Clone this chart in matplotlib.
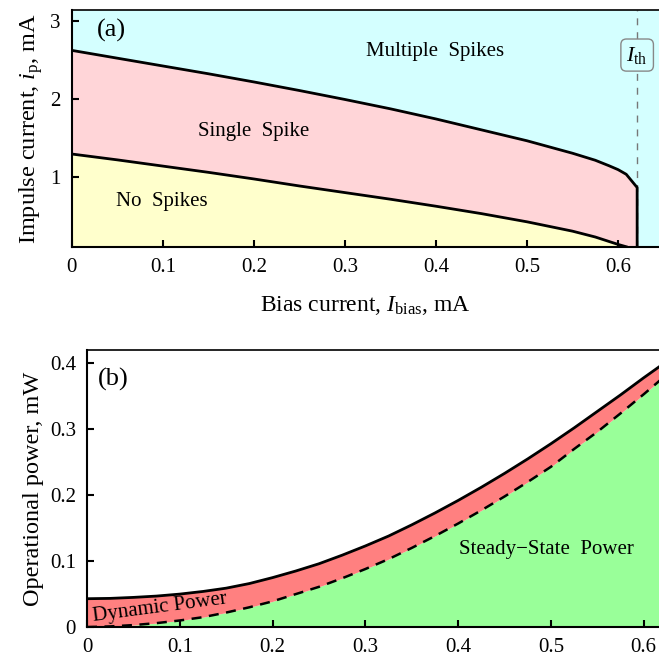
import numpy as np
import matplotlib.pyplot as plt

plt.rcParams['font.family'] = 'Liberation Serif'
plt.rcParams['mathtext.fontset'] = 'custom'
plt.rcParams['mathtext.rm'] = 'Liberation Serif'
plt.rcParams['mathtext.it'] = 'Liberation Serif:italic'

# panel (a): spiking boundaries
i_bias_up = [0.0, 0.05, 0.1, 0.15, 0.2, 0.25, 0.3, 0.35, 0.4, 0.45, 0.5,
             0.525, 0.55, 0.575, 0.59, 0.6, 0.609, 0.621]
i_p_single = [2.62, 2.52, 2.42, 2.32, 2.215, 2.105, 1.99, 1.87, 1.74, 1.60, 1.46,
              1.38, 1.30, 1.21, 1.14, 1.09, 1.03, 0.86]
i_bias_low = [0.0, 0.05, 0.1, 0.15, 0.2, 0.25, 0.3, 0.35, 0.4, 0.45, 0.5,
              0.55, 0.575, 0.6, 0.609]
i_p_none = [1.29, 1.215, 1.135, 1.055, 0.97, 0.88, 0.795, 0.71, 0.62, 0.525, 0.42,
            0.30, 0.225, 0.13, 0.10]
i_th = 0.621

# panel (b): operational power
i_bias_pw = [0.0, 0.025, 0.05, 0.075, 0.1, 0.125, 0.15, 0.175, 0.2, 0.225, 0.25,
             0.275, 0.3, 0.325, 0.35, 0.375, 0.4, 0.425, 0.45, 0.475, 0.5,
             0.525, 0.55, 0.575, 0.6, 0.62]
p_total = [0.043, 0.0435, 0.045, 0.047, 0.050, 0.054, 0.059, 0.066, 0.075, 0.085, 0.096,
           0.109, 0.123, 0.138, 0.155, 0.173, 0.192, 0.212, 0.233, 0.255, 0.278,
           0.302, 0.327, 0.352, 0.378, 0.398]
p_steady = [0.0, 0.001, 0.003, 0.006, 0.010, 0.015, 0.022, 0.030, 0.039, 0.050, 0.061,
            0.074, 0.088, 0.103, 0.120, 0.138, 0.157, 0.177, 0.198, 0.220, 0.243,
            0.270, 0.296, 0.324, 0.353, 0.377]

fig = plt.figure(figsize=(6.59, 6.58), dpi=100)

# ---- (a) ----
ax1 = fig.add_axes([0.109, 0.625, 0.891, 0.36])
ymin, ymax = 0.1, 3.14
ax1.set_facecolor('#d4ffff')
ax1.fill_between(i_bias_up, ymin, i_p_single, color='#ffd5d8', lw=0)
ax1.fill_between(i_bias_low, ymin, i_p_none, color='#ffffcc', lw=0)
ax1.axvline(i_th, color='#777777', ls=(0, (5, 5)), lw=1)
ax1.plot(list(i_bias_up) + [i_th], list(i_p_single) + [ymin], color='black', lw=2)
ax1.plot(i_bias_low, i_p_none, color='black', lw=2)
ax1.set_xlim(0, 0.645)
ax1.set_ylim(ymin, ymax)
ax1.set_xticks([0, 0.1, 0.2, 0.3, 0.4, 0.5, 0.6])
ax1.set_xticklabels(['0', '0.1', '0.2', '0.3', '0.4', '0.5', '0.6'])
ax1.set_yticks([1, 2, 3])
ax1.spines['right'].set_visible(False)
ax1.text(0.028, 2.88, '(a)', fontsize=19, va='center')
ax1.text(0.399, 2.6, 'Multiple  Spikes', fontsize=15, ha='center', va='center')
ax1.text(0.2, 1.58, 'Single  Spike', fontsize=15, ha='center', va='center')
ax1.text(0.099, 0.68, 'No  Spikes', fontsize=15, ha='center', va='center')
ax1.text(i_th, 2.56, r'$I_{\rm th}$', fontsize=16, ha='center', va='center',
         bbox=dict(boxstyle='round,pad=0.25', fc='#d4ffff', ec='#888888', lw=1))
ax1.set_xlabel(r'Bias current, $I_{\rm bias}$, mA', fontsize=17, labelpad=12)
ax1.set_ylabel(r'Impulse current, $i_{\rm p}$, mA', fontsize=17.5)

# ---- (b) ----
ax2 = fig.add_axes([0.132, 0.047, 0.873, 0.421])
ax2.fill_between(i_bias_pw, 0, p_steady, color='#99ff99', lw=0)
ax2.fill_between(i_bias_pw, p_steady, p_total, color='#ff8080', lw=0)
ax2.plot(i_bias_pw, p_total, color='black', lw=2)
ax2.plot(i_bias_pw, p_steady, color='black', lw=1.8, ls=(0, (4, 3)))
ax2.set_xlim(0, 0.62)
ax2.set_ylim(0, 0.42)
ax2.set_xticks([0, 0.1, 0.2, 0.3, 0.4, 0.5, 0.6])
ax2.set_xticklabels(['0', '0.1', '0.2', '0.3', '0.4', '0.5', '0.6'])
ax2.set_yticks([0, 0.1, 0.2, 0.3, 0.4])
ax2.set_yticklabels(['0', '0.1', '0.2', '0.3', '0.4'])
ax2.spines['right'].set_visible(False)
ax2.text(0.012, 0.375, '(b)', fontsize=19, va='center')
ax2.text(0.079, 0.030, 'Dynamic Power', fontsize=15, ha='center', va='center', rotation=7.5)
ax2.text(0.495, 0.117, 'Steady\u2212State  Power', fontsize=15, ha='center', va='center')
ax2.set_ylabel('Operational power, mW', fontsize=17.5)

for ax in (ax1, ax2):
    ax.tick_params(direction='in', length=5, width=1.5, labelsize=15, pad=8)
    for s in ax.spines.values():
        s.set_linewidth(1.2)
    ax.spines['bottom'].set_linewidth(1.5)
    ax.spines['left'].set_linewidth(1.5)

fig.savefig('out.png', dpi=100)
